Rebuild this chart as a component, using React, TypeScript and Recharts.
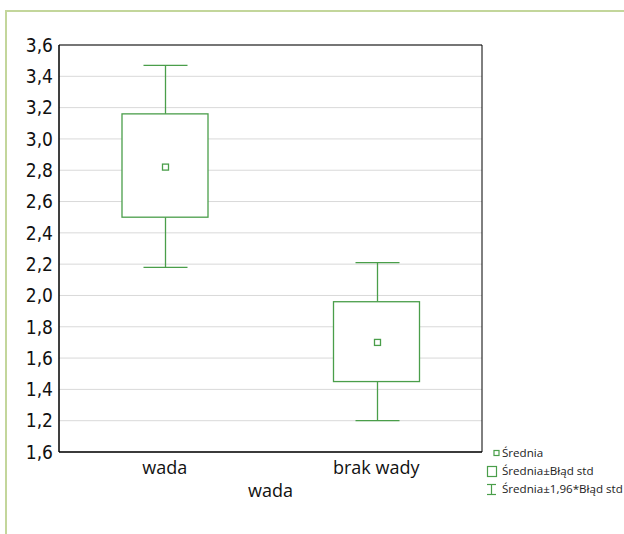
import React from "react";
import {
  Bar,
  CartesianGrid,
  ComposedChart,
  ReferenceArea,
  XAxis,
  YAxis,
} from "recharts";

const categories = ["wada", "brak wady"];
const means = [2.82, 1.7];
const seLow = [2.5, 1.45];
const seHigh = [3.16, 1.96];
const ciLow = [2.18, 1.2];
const ciHigh = [3.47, 2.21];

const yTicks = [1.0, 1.2, 1.4, 1.6, 1.8, 2.0, 2.2, 2.4, 2.6, 2.8, 3.0, 3.2, 3.4, 3.6];
const yTickLabels = ["1,6", "1,2", "1,4", "1,6", "1,8", "2,0", "2,2", "2,4", "2,6", "2,8", "3,0", "3,2", "3,4", "3,6"];

const legendLabels = ["Średnia", "Średnia±Błąd std", "Średnia±1,96*Błąd std"];

const GREEN = "#4a9e4a";
const FRAME = "#c3d69b";

const data = categories.map((name, i) => ({
  name,
  mean: means[i],
  seLow: seLow[i],
  seHigh: seHigh[i],
  ciLow: ciLow[i],
  ciHigh: ciHigh[i],
}));

function BoxShape(props: any) {
  const { x, y, width, height, payload } = props;
  const top = Math.min(y, y + height);
  const bottom = Math.max(y, y + height);
  const lo = payload.ciLow;
  const hi = payload.ciHigh;
  const px = (v: number) => bottom - ((v - lo) / (hi - lo)) * (bottom - top);
  const cx = Math.round(x + width / 2) + 0.5;
  const capW = 44;
  const boxTop = px(payload.seHigh);
  const boxBot = px(payload.seLow);
  const m = px(payload.mean);
  return (
    <g stroke={GREEN} strokeWidth={1.3} fill="none">
      <line x1={cx - capW / 2} x2={cx + capW / 2} y1={top} y2={top} />
      <line x1={cx - capW / 2} x2={cx + capW / 2} y1={bottom} y2={bottom} />
      <line x1={cx} x2={cx} y1={top} y2={boxTop} />
      <line x1={cx} x2={cx} y1={boxBot} y2={bottom} />
      <rect x={x} y={boxTop} width={width} height={boxBot - boxTop} fill="#fff" />
      <rect x={cx - 3} y={m - 3} width={6} height={6} fill="#fff" />
    </g>
  );
}

function LegendBox() {
  return (
    <svg width={140} height={60} style={{ display: "block", overflow: "visible" }}>
      <g stroke={GREEN} strokeWidth={1.2} fill="none">
        <rect x={10} y={6.5} width={5} height={5} />
        <rect x={3.5} y={22.5} width={9} height={10} />
        <line x1={3} x2={12} y1={40.5} y2={40.5} />
        <line x1={7.5} x2={7.5} y1={40} y2={50} />
        <line x1={3} x2={12} y1={50.5} y2={50.5} />
      </g>
      {legendLabels.map((t, i) => (
        <text
          key={t}
          x={18}
          y={9 + i * 18}
          dy="0.35em"
          fontSize={11.6}
          fontFamily="'Open Sans', sans-serif"
          fill="#222"
        >
          {t}
        </text>
      ))}
    </svg>
  );
}

export default function App() {
  return (
    <div
      style={{
        position: "fixed",
        left: 0,
        top: 0,
        width: 624,
        height: 534,
        background: "#fff",
      }}
    >
      <div style={{ position: "absolute", left: 5, top: 10, width: 619, height: 2, background: FRAME }} />
      <div style={{ position: "absolute", left: 5, top: 10, width: 2, height: 524, background: FRAME }} />
      <div style={{ position: "absolute", left: 0, top: 0 }}>
        <ComposedChart
          width={624}
          height={534}
          data={data}
          margin={{ top: 45, right: 142, bottom: 52, left: 9 }}
        >
          <CartesianGrid vertical={false} stroke="#d9d9d9" />
          <XAxis
            dataKey="name"
            height={30}
            tickLine={false}
            tickSize={0}
            tickMargin={9}
            axisLine={{ stroke: "#000" }}
            tick={{ fontSize: 18, fill: "#111", fontFamily: "'Open Sans', sans-serif" }}
            label={{
              value: "wada",
              position: "bottom",
              offset: 2,
              fontSize: 18,
              fill: "#111",
              fontFamily: "'Open Sans', sans-serif",
            }}
          />
          <YAxis
            type="number"
            domain={[1, 3.6]}
            ticks={yTicks}
            width={50}
            tickLine={false}
            tickSize={0}
            tickMargin={6}
            interval={0}
            axisLine={{ stroke: "#000" }}
            tickFormatter={(v: number, i: number) => yTickLabels[i]}
            tick={{
              fontSize: 19,
              fontWeight: 500,
              fill: "#111",
              fontFamily: "'DejaVu Sans Condensed', Roboto, sans-serif",
            }}
          />
          <ReferenceArea y1={1} y2={3.6} fill="none" stroke="#000" strokeWidth={1} ifOverflow="visible" />
          <Bar
            dataKey={(d: any) => [d.ciLow, d.ciHigh]}
            barSize={86}
            shape={BoxShape}
            isAnimationActive={false}
            legendType="none"
          />
        </ComposedChart>
      </div>
      <div style={{ position: "absolute", left: 484, top: 444 }}>
        <LegendBox />
      </div>
    </div>
  );
}
